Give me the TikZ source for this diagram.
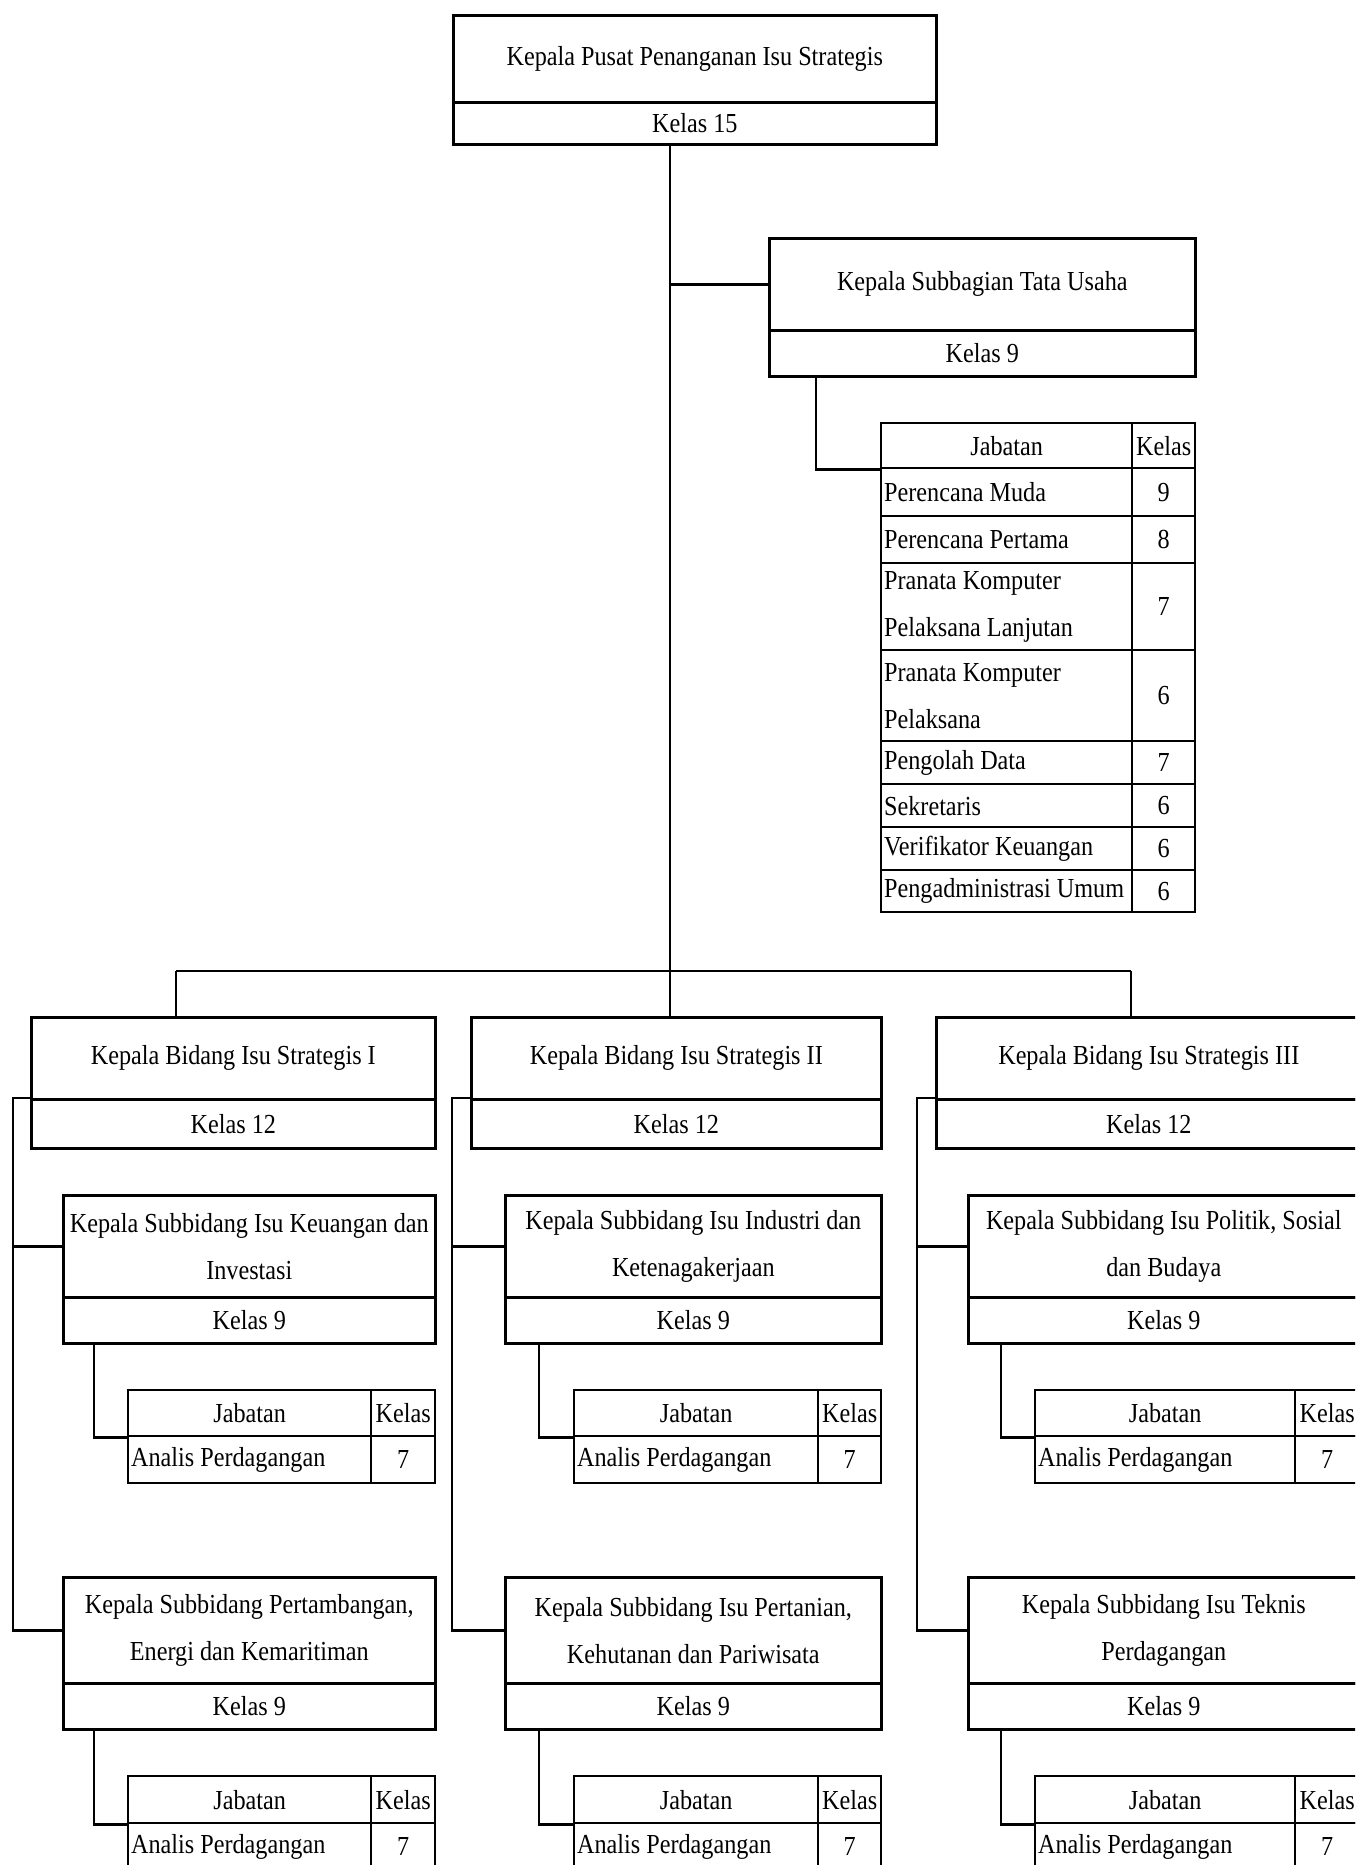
\documentclass[tikz,border=0pt]{standalone}
\usepackage{fontspec}
\setmainfont{Liberation Serif}[FakeStretch=0.88]
\usepackage{xcolor}
\usetikzlibrary{positioning,calc}

\begin{document}
\begin{tikzpicture} [ % satuan 1pt = 1 piksel, sumbu y ke bawah
            x=1pt, y=-1pt, line width=2.6pt,
            font=\fontsize{27.5}{47}\selectfont,
            box/.style 2 args = {draw, rectangle, anchor=north west, inner sep=0pt,
                                 align=center, minimum width=#1, minimum height=#2},
            cell/.style 2 args = {box={#1}{#2}, line width=2.3pt},
            cell-left/.style 2 args = {draw, rectangle, anchor=north west, line width=2.3pt,
                                 inner xsep=3pt, inner ysep=0pt, align=flush left,
                                 text width=#1, minimum height=#2}
        ]

        \useasboundingbox (0,0) rectangle (1355,1865);
        \clip (0,0) rectangle (1355,1865);

        % kepala pusat
        \node [box={483pt}{87pt}] (kpl) at (452,14) {Kepala Pusat Penanganan Isu Strategis};
        \node [box={483pt}{42pt}] (kpl-k) at (452,101) {Kelas 15};
        \coordinate (bus) at (670,971);
        \draw (kpl-k.south -| bus) -- (bus);

        % subbagian tata usaha
        \node [box={426pt}{92pt}] (ktu) at (768,237) {Kepala Subbagian Tata Usaha};
        \node [box={426pt}{46pt}] (ktu-k) at (768,329) {Kelas 9};
        \draw (ktu.west) -- (ktu.west -| bus);

        \node [cell={251pt}{45pt}] (tu0) at (880,422) {Jabatan};
        \node [cell={63pt}{45pt}] (tu0k) at (1131,422) {Kelas};
        \node [cell-left={245pt}{48pt}] (tu1) at (880,467) {Perencana Muda};
        \node [cell={63pt}{48pt}] (tu1k) at (1131,467) {9};
        \node [cell-left={245pt}{47pt}] (tu2) at (880,515) {Perencana Pertama};
        \node [cell={63pt}{47pt}] (tu2k) at (1131,515) {8};
        \node [cell-left={245pt}{87pt}] (tu3) at (880,562) {Pranata Komputer\\Pelaksana Lanjutan};
        \node [cell={63pt}{87pt}] (tu3k) at (1131,562) {7};
        \node [cell-left={245pt}{91pt}] (tu4) at (880,649) {Pranata Komputer\\Pelaksana};
        \node [cell={63pt}{91pt}] (tu4k) at (1131,649) {6};
        \node [cell-left={245pt}{43pt}] (tu5) at (880,740) {Pengolah Data};
        \node [cell={63pt}{43pt}] (tu5k) at (1131,740) {7};
        \node [cell-left={245pt}{43pt}] (tu6) at (880,783) {Sekretaris};
        \node [cell={63pt}{43pt}] (tu6k) at (1131,783) {6};
        \node [cell-left={245pt}{43pt}] (tu7) at (880,826) {Verifikator Keuangan};
        \node [cell={63pt}{43pt}] (tu7k) at (1131,826) {6};
        \node [cell-left={245pt}{42pt}] (tu8) at (880,869) {Pengadministrasi Umum};
        \node [cell={63pt}{42pt}] (tu8k) at (1131,869) {6};
        \draw ($(ktu-k.south west)+(48,0)$) |- (tu0.south west);

        % bidang
        \node [box={404pt}{82pt}] (bid1) at (30,1016) {Kepala Bidang Isu Strategis I};
        \node [box={404pt}{49pt}] (bid1-k) at (30,1098) {Kelas 12};
        \node [box={410pt}{82pt}] (bid2) at (470,1016) {Kepala Bidang Isu Strategis II};
        \node [box={410pt}{49pt}] (bid2-k) at (470,1098) {Kelas 12};
        \node [box={425pt}{82pt}] (bid3) at (935,1016) {Kepala Bidang Isu Strategis III};
        \node [box={425pt}{49pt}] (bid3-k) at (935,1098) {Kelas 12};

        \coordinate (b1) at (176,971);
        \coordinate (b3) at (1131,971);
        \draw (b1) -- (b3);
        \draw (b1) -- (b1 |- bid1.north);
        \draw (bus) -- (bus |- bid2.north);
        \draw (b3) -- (b3 |- bid3.north);

        % kolom I
        \node [box={372pt}{102pt}] (s11) at (62,1194) {Kepala Subbidang Isu Keuangan dan\\Investasi};
        \node [box={372pt}{46pt}] (s11-k) at (62,1296) {Kelas 9};
        \node [cell={243pt}{46pt}] (t11) at (127,1389) {Jabatan};
        \node [cell={64pt}{46pt}] (t11k) at (370,1389) {Kelas};
        \node [cell-left={237pt}{47pt}] (t11a) at (127,1435) {Analis Perdagangan};
        \node [cell={64pt}{47pt}] (t11b) at (370,1435) {7};
        \draw ($(s11-k.south west)+(32,0)$) |- (t11.south west);

        \node [box={372pt}{106pt}] (s12) at (62,1576) {Kepala Subbidang Pertambangan,\\Energi dan Kemaritiman};
        \node [box={372pt}{46pt}] (s12-k) at (62,1682) {Kelas 9};
        \node [cell={243pt}{47pt}] (t12) at (127,1775) {Jabatan};
        \node [cell={64pt}{47pt}] (t12k) at (370,1775) {Kelas};
        \node [cell-left={237pt}{47pt}] (t12a) at (127,1822) {Analis Perdagangan};
        \node [cell={64pt}{47pt}] (t12b) at (370,1822) {7};
        \draw ($(s12-k.south west)+(32,0)$) |- (t12.south west);

        \coordinate (v1) at (13,1098);
        \draw (bid1-k.north west) -- (v1) |- (s12.west);
        \draw (s11.west) -- (s11.west -| v1);

        % kolom II
        \node [box={376pt}{102pt}] (s21) at (504,1194) {Kepala Subbidang Isu Industri dan\\Ketenagakerjaan};
        \node [box={376pt}{46pt}] (s21-k) at (504,1296) {Kelas 9};
        \node [cell={244pt}{46pt}] (t21) at (573,1389) {Jabatan};
        \node [cell={63pt}{46pt}] (t21k) at (817,1389) {Kelas};
        \node [cell-left={238pt}{47pt}] (t21a) at (573,1435) {Analis Perdagangan};
        \node [cell={63pt}{47pt}] (t21b) at (817,1435) {7};
        \draw ($(s21-k.south west)+(35,0)$) |- (t21.south west);

        \node [box={376pt}{106pt}] (s22) at (504,1576) {Kepala Subbidang Isu Pertanian,\\Kehutanan dan Pariwisata};
        \node [box={376pt}{46pt}] (s22-k) at (504,1682) {Kelas 9};
        \node [cell={244pt}{47pt}] (t22) at (573,1775) {Jabatan};
        \node [cell={63pt}{47pt}] (t22k) at (817,1775) {Kelas};
        \node [cell-left={238pt}{47pt}] (t22a) at (573,1822) {Analis Perdagangan};
        \node [cell={63pt}{47pt}] (t22b) at (817,1822) {7};
        \draw ($(s22-k.south west)+(35,0)$) |- (t22.south west);

        \coordinate (v2) at (452,1098);
        \draw (bid2-k.north west) -- (v2) |- (s22.west);
        \draw (s21.west) -- (s21.west -| v2);

        % kolom III
        \node [box={391pt}{102pt}] (s31) at (967,1194) {Kepala Subbidang Isu Politik, Sosial\\dan Budaya};
        \node [box={391pt}{46pt}] (s31-k) at (967,1296) {Kelas 9};
        \node [cell={260pt}{46pt}] (t31) at (1034,1389) {Jabatan};
        \node [cell={64pt}{46pt}] (t31k) at (1294,1389) {Kelas};
        \node [cell-left={254pt}{47pt}] (t31a) at (1034,1435) {Analis Perdagangan};
        \node [cell={64pt}{47pt}] (t31b) at (1294,1435) {7};
        \draw ($(s31-k.south west)+(34,0)$) |- (t31.south west);

        \node [box={391pt}{106pt}] (s32) at (967,1576) {Kepala Subbidang Isu Teknis\\Perdagangan};
        \node [box={391pt}{46pt}] (s32-k) at (967,1682) {Kelas 9};
        \node [cell={260pt}{47pt}] (t32) at (1034,1775) {Jabatan};
        \node [cell={64pt}{47pt}] (t32k) at (1294,1775) {Kelas};
        \node [cell-left={254pt}{47pt}] (t32a) at (1034,1822) {Analis Perdagangan};
        \node [cell={64pt}{47pt}] (t32b) at (1294,1822) {7};
        \draw ($(s32-k.south west)+(34,0)$) |- (t32.south west);

        \coordinate (v3) at (917,1098);
        \draw (bid3-k.north west) -- (v3) |- (s32.west);
        \draw (s31.west) -- (s31.west -| v3);

    \end{tikzpicture}
\end{document}
